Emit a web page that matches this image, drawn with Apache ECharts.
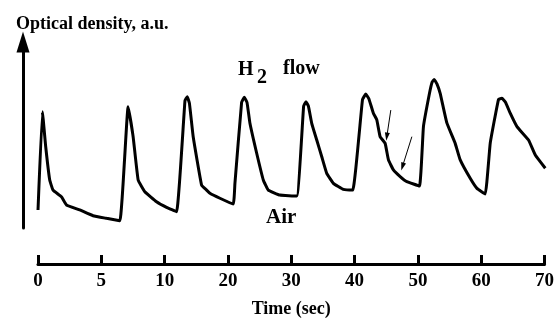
<!DOCTYPE html>
<html>
<head>
<meta charset="utf-8">
<script src="https://cdn.jsdelivr.net/npm/echarts@6/dist/echarts.min.js"></script>
<style>
  html, body { margin: 0; padding: 0; background: #fff; }
  #chart { width: 557px; height: 320px; }
</style>
</head>
<body>
<div id="chart"></div>
<script>
// x in tick units * 10 (ticks are evenly spaced, labels are not)
const tickLabels = ['0', '5', '10', '20', '30', '40', '50', '60', '70'];

const time = [
  0.0, 0.69, 1.21, 1.84, 2.36, 3.68, 4.47, 6.56, 8.65, 10.76, 12.86,
  14.16, 14.95, 15.74, 16.79, 18.63, 20.2, 21.78,
  23.1, 23.45, 23.8, 24.39, 25.71, 26.5, 27.02, 28.59, 30.68, 30.95,
  32.0, 32.42, 32.85, 33.31, 34.37, 35.41, 36.19, 38.03, 40.66,
  41.75, 42.12, 42.5, 43.02, 43.81, 44.6, 45.38, 46.42, 47.99, 49.47,
  51.0, 51.52, 52.0, 52.71, 53.25, 53.77, 54.56, 55.08, 55.86, 56.92, 57.97, 59.95,
  60.58, 61.53, 61.95, 62.27, 62.7, 63.21, 64.26, 65.57, 66.36, 67.93, 68.99, 70.29,
  71.08, 72.38, 72.92, 73.5, 74.22, 75.28, 77.1, 78.16, 79.73
];
const density = [
  9.7, 62.5, 43.7, 25.8, 20.4, 16.8, 12.4, 9.7, 6.6, 5.2, 3.9,
  65.2, 49.1, 25.8, 19.5, 14.1, 11.1, 8.8,
  68.5, 70.6, 67, 49.1, 23.1, 20.4, 18.7, 16.0, 12.9, 24.0,
  67.5, 70.3, 67.5, 56.3, 40.2, 25.8, 20.4, 17.7, 17.2,
  65.5, 67.9, 65.5, 56.3, 47.3, 38.3, 29.4, 24.0, 20.8, 20.4,
  69, 72.0, 69.5, 61.7, 58.1, 49.1, 45.5, 36.6, 31.2, 27.6, 24.9, 22.6,
  54.5, 72.4, 78.5, 79.9, 77.5, 72.4, 56.5, 45.5, 36.6, 26.7, 21.3, 18.3,
  45.7, 69.2, 69.7, 67.5, 61.7, 54.5, 47.3, 39.2, 32.1
];

// two small arrows pointing at the shoulders
const arrowStart = [[55.45, 63.4], [58.76, 49.1]];
const arrowEnd = [[54.82, 49.1], [57.28, 33.0]];

const serif = 'Liberation Serif, Times New Roman, serif';

// the arrow axis sits ~15px left of t=0, so the upper grid starts a bit earlier
const xMinTop = -2.36;

const chart = echarts.init(document.getElementById('chart'));

const option = {
  backgroundColor: '#fff',
  animation: false,
  title: {
    text: 'Optical density, a.u.',
    left: 11,
    top: 10,
    textStyle: { fontFamily: serif, fontWeight: 'bold', fontSize: 18, color: '#000' }
  },
  grid: [
    { left: 23, right: 10, top: 42, bottom: 92 },
    { left: 38, right: 10, top: 255, height: 9 }
  ],
  xAxis: [
    { gridIndex: 0, type: 'value', min: xMinTop, max: 80, show: false },
    {
      gridIndex: 1,
      type: 'value',
      min: 0,
      max: 80,
      interval: 10,
      position: 'bottom',
      axisLine: { show: true, onZero: false, lineStyle: { color: '#000', width: 3 } },
      axisTick: { show: true, inside: true, length: 9, lineStyle: { color: '#000', width: 3 } },
      splitLine: { show: false },
      axisLabel: {
        margin: 8,
        fontFamily: serif,
        fontWeight: 'bold',
        fontSize: 19,
        color: '#000',
        formatter: v => tickLabels[Math.round(v / 10)]
      },
      name: 'Time (sec)',
      nameLocation: 'middle',
      nameGap: 36,
      nameTextStyle: { fontFamily: serif, fontWeight: 'bold', fontSize: 18, color: '#000' }
    }
  ],
  yAxis: [
    {
      gridIndex: 0,
      type: 'value',
      min: 0,
      max: 100,
      axisLine: {
        show: true,
        onZero: false,
        symbol: ['none', 'triangle'],
        symbolSize: [13, 21],
        lineStyle: { color: '#000', width: 3 }
      },
      axisTick: { show: false },
      axisLabel: { show: false },
      splitLine: { show: false }
    },
    { gridIndex: 1, type: 'value', show: false }
  ],
  graphic: [
    { type: 'text', left: 238, top: 60, style: { text: 'H', font: 'bold 20px ' + serif, fill: '#000' } },
    { type: 'text', left: 257, top: 68, style: { text: '2', font: 'bold 20px ' + serif, fill: '#000' } },
    { type: 'text', left: 283, top: 59, style: { text: 'flow', font: 'bold 20px ' + serif, fill: '#000' } },
    { type: 'text', left: 266, top: 207, style: { text: 'Air', font: 'bold 21px ' + serif, fill: '#000' } }
  ],
  series: [
    {
      type: 'line',
      xAxisIndex: 0,
      yAxisIndex: 0,
      data: time.map((t, i) => [t, density[i]]),
      showSymbol: false,
      smooth: 0.1,
      lineStyle: { color: '#000', width: 3 },
      markLine: {
        silent: true,
        symbol: ['none', 'triangle'],
        symbolSize: [5, 8],
        label: { show: false },
        lineStyle: { color: '#000', width: 1, type: 'solid' },
        data: arrowStart.map((s, i) => [{ coord: s }, { coord: arrowEnd[i] }])
      }
    }
  ]
};

chart.setOption(option);
</script>
</body>
</html>
